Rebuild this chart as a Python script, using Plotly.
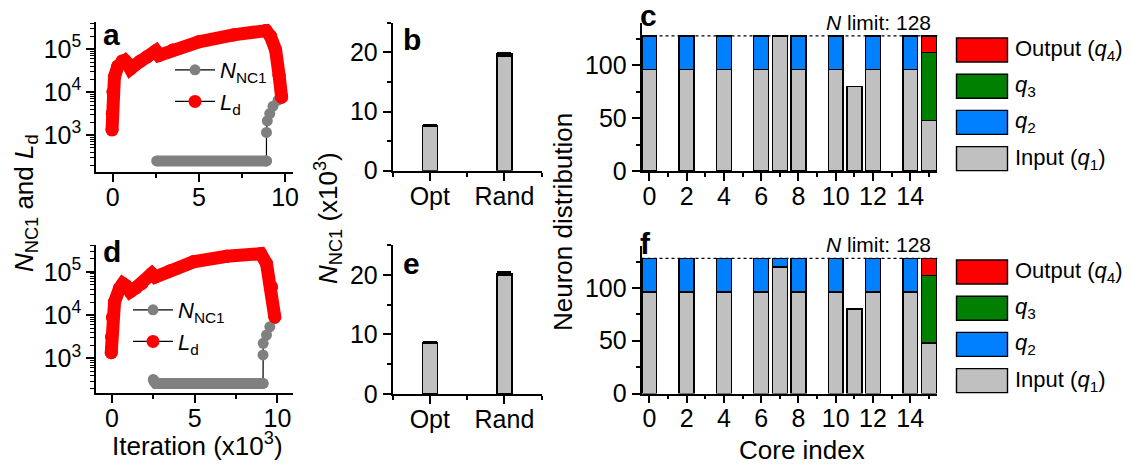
import plotly.graph_objects as go

W, H = 1132, 466

# ---------------- data ----------------
ld_a_x = [-0.04, -0.02, 0.02, 0.10, 0.30, 0.55, 0.72, 0.88, 1.03, 1.30, 1.60, 2.00, 2.50, 2.68, 3.50, 5.00, 7.00, 8.90, 9.15, 9.45, 9.65, 9.80]
ld_a_y = [1320, 3160, 10000, 22400, 39800, 52500, 53700, 45700, 34700, 42700, 52500, 66100, 91200, 70800, 95500, 148000, 214000, 269000, 200000, 95500, 25100, 7600]
nnc_a_flat_x = [2.55, 8.92]
nnc_a_flat_y = [250, 250]
nnc_a_rise_x = [8.92, 8.92, 8.97, 9.11, 9.30, 9.59, 9.84]
nnc_a_rise_y = [250, 1150, 2140, 3160, 4680, 6460, 8130]

ld_d_x = [-0.04, -0.02, 0.04, 0.16, 0.46, 0.66, 0.85, 1.10, 1.45, 1.81, 2.41, 2.61, 3.50, 4.92, 6.93, 8.99, 9.34, 9.64, 9.84]
ld_d_y = [1350, 3160, 8900, 20000, 41700, 53700, 47900, 34700, 42700, 53700, 91200, 75900, 105000, 170000, 229000, 263000, 155000, 44700, 9100]
nnc_d_flat_x = [2.50, 2.56, 2.66, 9.13]
nnc_d_flat_y = [325, 290, 263, 263]
nnc_d_rise_x = [9.13, 9.13, 9.14, 9.34, 9.54, 9.84]
nnc_d_rise_y = [263, 1200, 2230, 3470, 5370, 8320]

cat_pos = [1, 2]
cat_labels = ["Opt", "Rand"]
nnc_b = [7.6, 19.7]
nnc_b_err = [None, 0.2]
nnc_e = [8.6, 20.2]
nnc_e_err = [None, 0.2]

cores = list(range(16))
input_c = [96, 0, 96, 0, 96, 0, 96, 128, 96, 0, 96, 80, 96, 0, 96, 48]
q2_c    = [32, 0, 32, 0, 32, 0, 32, 0, 32, 0, 32, 0, 32, 0, 32, 0]
q3_c    = [0] * 15 + [64]
q4_c    = [0] * 15 + [16]
input_f = [96, 0, 96, 0, 96, 0, 96, 120, 96, 0, 96, 80, 96, 0, 96, 48]
q2_f    = [32, 0, 32, 0, 32, 0, 32, 8, 32, 0, 32, 0, 32, 0, 32, 0]
q3_f    = [0] * 15 + [64]
q4_f    = [0] * 15 + [16]
n_limit = 128

stack_names = ["Output (<i>q</i><sub>4</sub>)", "<i>q</i><sub>3</sub>", "<i>q</i><sub>2</sub>", "Input (<i>q</i><sub>1</sub>)"]
stack_colors = ["#FF0000", "#008000", "#0080FF", "#C0C0C0"]

RED = "#FF0000"
GRAY_M = "#808080"
GRAY_B = "#C0C0C0"
FONT = "Liberation Sans, Arial, sans-serif"
TICKFONT = 25


def fx(px):
    return px / W


def fy(py):
    return 1 - py / H


def nz(v):
    return [x if x else None for x in v]


fig = go.Figure()


def add_curves(xa, ya, leg, fx_, fy_, rx, ry, lx, ly):
    fig.add_trace(go.Scatter(x=rx, y=ry, mode="lines+markers", name="<i>N</i><sub>NC1</sub>",
                             line=dict(color="black", width=1.2),
                             marker=dict(color=GRAY_M, size=11),
                             xaxis=xa, yaxis=ya, legend=leg))
    fig.add_trace(go.Scatter(x=fx_, y=fy_, mode="lines+markers", showlegend=False,
                             line=dict(color=GRAY_M, width=11),
                             marker=dict(color=GRAY_M, size=11),
                             xaxis=xa, yaxis=ya))
    fig.add_trace(go.Scatter(x=lx, y=ly, mode="lines+markers", name="<i>L</i><sub>d</sub>",
                             line=dict(color="black", width=1.2),
                             marker=dict(color=RED, size=13),
                             xaxis=xa, yaxis=ya, legend=leg))
    fig.add_trace(go.Scatter(x=lx, y=ly, mode="lines+markers", showlegend=False,
                             line=dict(color=RED, width=13),
                             marker=dict(color=RED, size=13),
                             xaxis=xa, yaxis=ya))


add_curves("x", "y", "legend", nnc_a_flat_x, nnc_a_flat_y, nnc_a_rise_x, nnc_a_rise_y, ld_a_x, ld_a_y)
add_curves("x2", "y2", "legend2", nnc_d_flat_x, nnc_d_flat_y, nnc_d_rise_x, nnc_d_rise_y, ld_d_x, ld_d_y)

for vals, errs, xa, ya in [(nnc_b, nnc_b_err, "x3", "y3"), (nnc_e, nnc_e_err, "x4", "y4")]:
    fig.add_trace(go.Bar(x=cat_pos, y=vals, width=0.2, showlegend=False,
                         marker=dict(color=GRAY_B, line=dict(color="black", width=1.5)),
                         error_y=dict(type="data", array=errs, symmetric=True, color="black",
                                      thickness=2.5, width=7),
                         xaxis=xa, yaxis=ya))

for series, xa, ya in [((input_c, q2_c, q3_c, q4_c), "x5", "y5"), ((input_f, q2_f, q3_f, q4_f), "x6", "y6")]:
    cols = [stack_colors[3], stack_colors[2], stack_colors[1], stack_colors[0]]
    for vals, col in zip(series, cols):
        fig.add_trace(go.Bar(x=cores, y=nz(vals), width=0.8, showlegend=False,
                             marker=dict(color=col, line=dict(color="black", width=1.4)),
                             xaxis=xa, yaxis=ya))

axis_common = dict(showline=True, linecolor="black", linewidth=1.6, ticks="outside", ticklen=8,
                   tickwidth=1.6, tickcolor="black", showgrid=False, zeroline=False, mirror=False,
                   automargin=False, tickfont=dict(family=FONT, size=TICKFONT, color="black"))
xaxis_common = dict(axis_common, ticklabelstandoff=-6)


def minor(vals, w=1.6):
    return dict(ticks="outside", ticklen=4, tickwidth=w, tickcolor="black", tickvals=vals)


log_minor = [m * 10 ** e for e in (2, 3, 4, 5) for m in range(2, 10) if m * 10 ** e < 430000]
log_ticks = [1e3, 1e4, 1e5]
log_text = ["10<sup>3</sup>", "10<sup>4</sup>", "10<sup>5</sup>"]

dom_a_x = [fx(96), fx(293)]
dom_a_y = [fy(172), fy(22)]
dom_d_y = [fy(393), fy(245)]
dom_b_x = [fx(392.5), fx(541.7)]
dom_b_y = [fy(170.7), fy(22.7)]
dom_e_y = [fy(394), fy(245)]
dom_c_x = [fx(641.5), fx(937.3)]
dom_c_y = [fy(171), fy(23.2)]
dom_f_y = [fy(393.5), fy(245.7)]

layout = dict(
    width=W, height=H, margin=dict(l=0, r=0, t=0, b=0, pad=0, autoexpand=False), autosize=False,
    paper_bgcolor="white", plot_bgcolor="white", barmode="stack",
    font=dict(family=FONT, size=22, color="black"),
    xaxis=dict(xaxis_common, domain=dom_a_x, anchor="y", range=[-0.97, 10.46], tickvals=[0, 5, 10],
               minor=minor([2.5, 7.5])),
    yaxis=dict(axis_common, domain=dom_a_y, anchor="x", type="log", range=[2.14, 5.63],
               tickvals=log_ticks, ticktext=log_text, minor=minor(log_minor, 1.3)),
    xaxis2=dict(xaxis_common, domain=dom_a_x, anchor="y2", range=[-0.96, 10.94], tickvals=[0, 5, 10],
                minor=minor([2.5, 7.5])),
    yaxis2=dict(axis_common, domain=dom_d_y, anchor="x2", type="log", range=[2.2, 5.62],
                tickvals=log_ticks, ticktext=log_text, minor=minor(log_minor, 1.3)),
    xaxis3=dict(xaxis_common, domain=dom_b_x, anchor="y3", range=[0.5, 2.5], tickvals=cat_pos, ticktext=cat_labels,
                minor=minor([0.5, 1.5, 2.5])),
    yaxis3=dict(axis_common, domain=dom_b_y, anchor="x3", range=[0, 25], tickvals=[0, 10, 20],
                minor=minor([5, 15, 25])),
    xaxis4=dict(xaxis_common, domain=dom_b_x, anchor="y4", range=[0.5, 2.5], tickvals=cat_pos, ticktext=cat_labels,
                minor=minor([0.5, 1.5, 2.5])),
    yaxis4=dict(axis_common, domain=dom_e_y, anchor="x4", range=[0, 25], tickvals=[0, 10, 20],
                minor=minor([5, 15, 25])),
    xaxis5=dict(xaxis_common, domain=dom_c_x, anchor="y5", range=[-0.42, 15.45], tickvals=list(range(0, 15, 2)),
                minor=minor(list(range(1, 16, 2)))),
    yaxis5=dict(axis_common, domain=dom_c_y, anchor="x5", range=[0, 140], tickvals=[0, 50, 100],
                minor=minor([25, 75, 125])),
    xaxis6=dict(xaxis_common, domain=dom_c_x, anchor="y6", range=[-0.42, 15.45], tickvals=list(range(0, 15, 2)),
                minor=minor(list(range(1, 16, 2)))),
    yaxis6=dict(axis_common, domain=dom_f_y, anchor="x6", range=[0, 140], tickvals=[0, 50, 100],
                minor=minor([25, 75, 125])),
    legend=dict(x=fx(170), y=fy(49), xanchor="left", yanchor="top", bgcolor="rgba(0,0,0,0)",
                traceorder="normal", font=dict(family=FONT, size=22, color="black"), itemwidth=40),
    legend2=dict(x=fx(128), y=fy(289), xanchor="left", yanchor="top", bgcolor="rgba(0,0,0,0)",
                 traceorder="normal", font=dict(family=FONT, size=22, color="black"), itemwidth=40),
)
fig.update_layout(**layout)

shapes = []
annotations = []
for xa, ya in [("x5", "y5"), ("x6", "y6")]:
    shapes.append(dict(type="line", xref=xa + " domain", yref=ya, x0=0, x1=1, y0=n_limit, y1=n_limit,
                       line=dict(color="black", width=1.3, dash="dot"), layer="above"))

for off in (0, 222):
    for i, (name, col) in enumerate(zip(stack_names, stack_colors)):
        top = 38 + off + i * 36.2
        shapes.append(dict(type="rect", xref="paper", yref="paper", x0=fx(956.5), x1=fx(1007.5),
                           y0=fy(top + 24), y1=fy(top), fillcolor=col, line=dict(color="black", width=1.4)))
        annotations.append(dict(text=name, xref="paper", yref="paper", x=fx(1013), y=fy(top + 12),
                                xanchor="left", yanchor="middle", showarrow=False,
                                font=dict(family=FONT, size=22, color="black")))
    annotations.append(dict(text="<i>N</i> limit: " + str(n_limit), xref="paper", yref="paper",
                            x=fx(933), y=fy(22.5 + off), xanchor="right", yanchor="middle", showarrow=False,
                            font=dict(family=FONT, size=21, color="black")))

for letter, px, py in [("a", 101, 34.5), ("b", 401, 39.5), ("c", 638, 15.5),
                       ("d", 101, 251), ("e", 401, 263), ("f", 638, 243)]:
    annotations.append(dict(text="<b>" + letter + "</b>", xref="paper", yref="paper", x=fx(px), y=fy(py),
                            xanchor="left", yanchor="middle", showarrow=False,
                            font=dict(family=FONT, size=30, color="black")))

annotations.append(dict(text="<i>N</i><sub>NC1</sub> and <i>L</i><sub>d</sub>", xref="paper", yref="paper",
                        x=fx(25), y=fy(203), textangle=-90, xanchor="center", yanchor="middle",
                        showarrow=False, font=dict(family=FONT, size=26, color="black")))
annotations.append(dict(text="<i>N</i><sub>NC1</sub> (x10<sup>3</sup>)", xref="paper", yref="paper",
                        x=fx(328), y=fy(218), textangle=-90, xanchor="center", yanchor="middle",
                        showarrow=False, font=dict(family=FONT, size=26, color="black")))
annotations.append(dict(text="Neuron distribution", xref="paper", yref="paper",
                        x=fx(563), y=fy(222), textangle=-90, xanchor="center", yanchor="middle",
                        showarrow=False, font=dict(family=FONT, size=26, color="black")))
annotations.append(dict(text="Iteration (x10<sup>3</sup>)", xref="paper", yref="paper",
                        x=fx(197), y=fy(444), xanchor="center", yanchor="middle",
                        showarrow=False, font=dict(family=FONT, size=26, color="black")))
annotations.append(dict(text="Core index", xref="paper", yref="paper",
                        x=fx(802), y=fy(450), xanchor="center", yanchor="middle",
                        showarrow=False, font=dict(family=FONT, size=26, color="black")))

fig.update_layout(shapes=shapes, annotations=annotations)

clip_js = (
    "document.documentElement.style.margin='0px';"
    "document.documentElement.style.overflow='hidden';"
    "document.body.style.margin='0px';"
    "document.body.style.overflow='hidden';"
    "var gd=document.getElementById('{plot_id}');"
    "gd.style.overflow='hidden';"
)
fig.write_html("out.html", config={"displayModeBar": False}, post_script=clip_js)
